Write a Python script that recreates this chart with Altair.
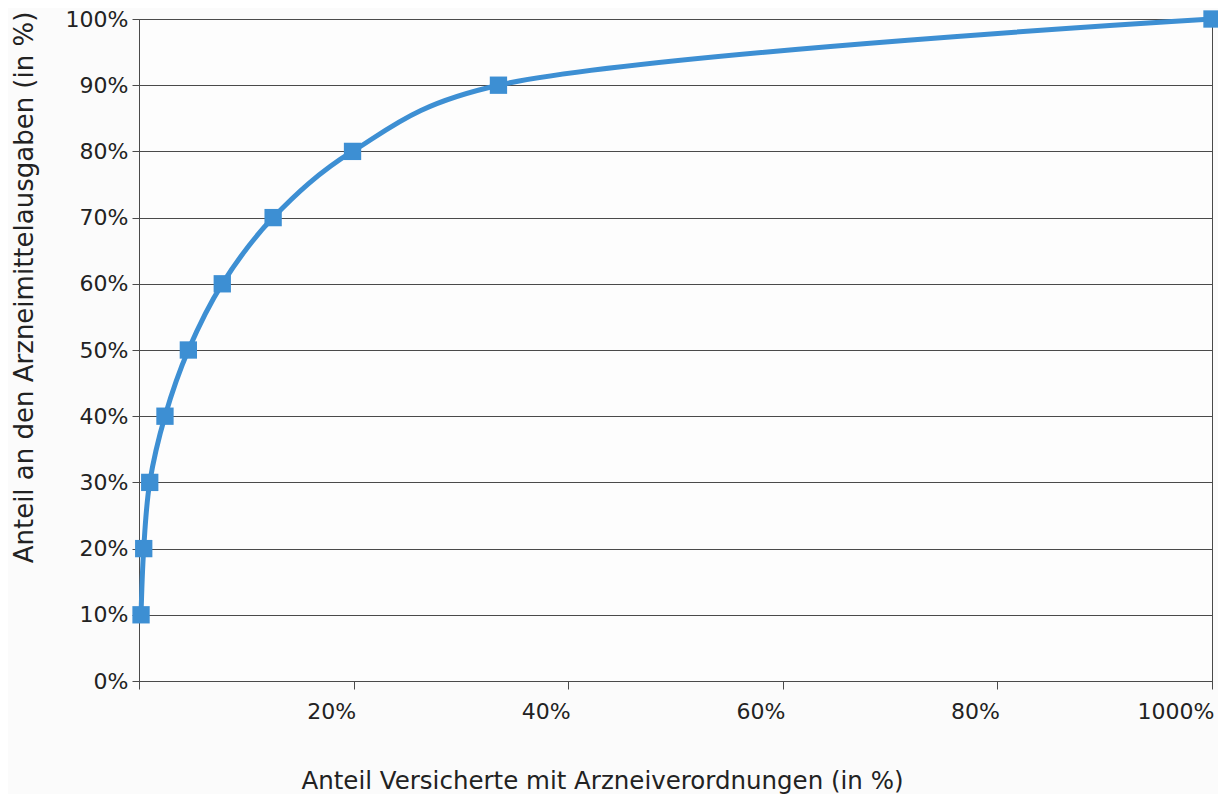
import altair as alt
import pandas as pd

# Share of insured persons (x, %) vs share of drug expenditure (y, %)
versicherte = [0.19, 0.44, 1.0, 2.42, 4.6, 7.76, 12.5, 19.9, 33.5, 100.0]
ausgaben = [10, 20, 30, 40, 50, 60, 70, 80, 90, 100]
x_ticks = [0, 20, 40, 60, 80, 100]
y_ticks = [0, 10, 20, 30, 40, 50, 60, 70, 80, 90, 100]

df = pd.DataFrame({"x": versicherte, "y": ausgaben})

FONT = "DejaVu Sans"
BLUE = "#3d8fd3"
GRID = "#4a4a4a"

x_enc = alt.X(
    "x:Q",
    scale=alt.Scale(domain=[0, 100], nice=False, zero=True),
    axis=alt.Axis(
        values=x_ticks,
        labelExpr="datum.value == 0 ? '' : datum.value == 100 ? '1000%' : datum.value + '%'",
        title="Anteil Versicherte mit Arzneiverordnungen (in %)",
        titleX=463,
        titleY=107,
        titleBaseline="alphabetic",
        titleAnchor="middle",
        titleFontSize=24.5,
        labelAlign="right",
        labelOffset=2,
        labelPadding=12,
        tickSize=8,
        grid=False,
    ),
)
y_enc = alt.Y(
    "y:Q",
    scale=alt.Scale(domain=[0, 100], nice=False),
    axis=alt.Axis(
        values=y_ticks,
        labelExpr="datum.value + '%'",
        title="Anteil an den Arzneimittelausgaben (in %)",
        titleX=-107,
        titleY=268,
        titleAngle=-90,
        titleBaseline="alphabetic",
        titleAnchor="middle",
        titleFontSize=26,
        labelPadding=4,
        tickSize=7,
        grid=True,
        gridColor=GRID,
        gridWidth=1,
        gridOpacity=1,
    ),
)

line = alt.Chart(df).mark_line(
    interpolate="catmull-rom", tension=0.35, color=BLUE, strokeWidth=5
).encode(x=x_enc, y=y_enc)

points = alt.Chart(df).mark_point(
    shape="square", size=300, filled=True, color=BLUE, opacity=1
).encode(x="x:Q", y="y:Q")

chart = (
    alt.layer(line, points)
    .properties(
        width=1073,
        height=662,
        autosize=alt.AutoSizeParams(type="none"),
        padding={"left": 131, "top": 11, "right": 6, "bottom": 113},
        background="#fbfbfb",
    )
    .configure_view(stroke=GRID, strokeWidth=1, fill="#fdfdfd")
    .configure_axis(
        labelFont=FONT,
        titleFont=FONT,
        labelFontSize=22,
        titleFontWeight="normal",
        labelColor="#222222",
        titleColor="#222222",
        domainColor=GRID,
        tickColor=GRID,
        domainWidth=1,
        tickWidth=1,
    )
)

chart.save("out.html", embed_options={"renderer": "svg", "actions": False})
